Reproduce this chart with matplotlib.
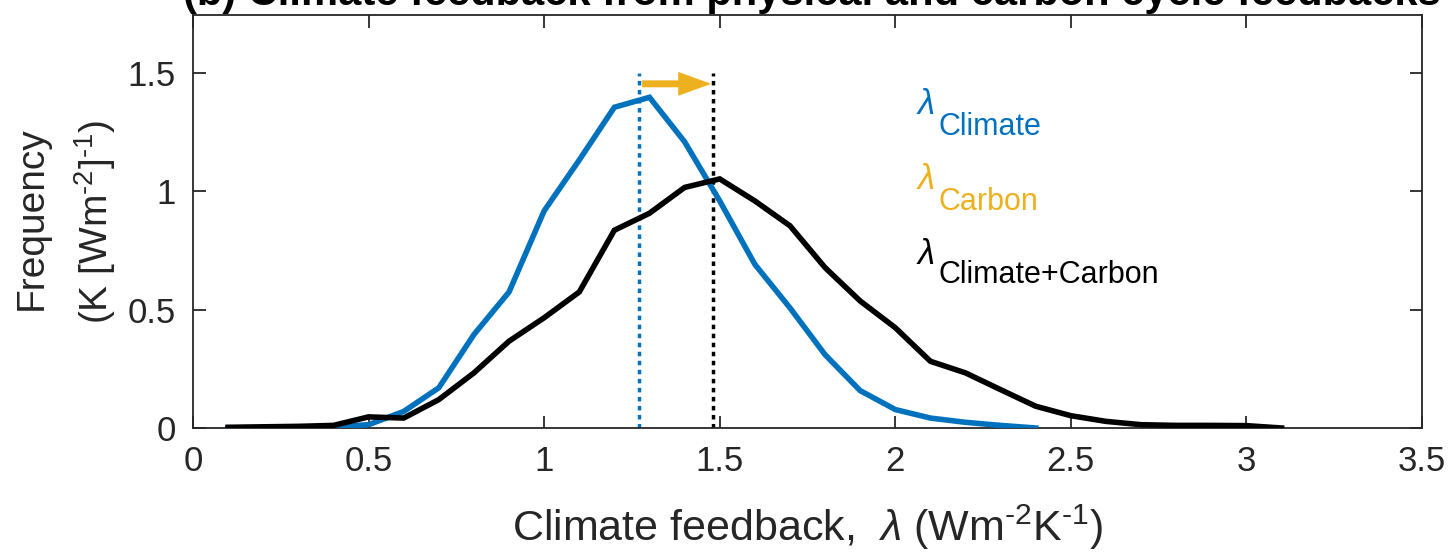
import matplotlib
matplotlib.use("Agg")
import matplotlib.pyplot as plt

FONT = "Liberation Sans"
plt.rcParams['font.family'] = [FONT, 'DejaVu Sans']
plt.rcParams['mathtext.fontset'] = 'custom'
plt.rcParams['mathtext.rm'] = FONT
plt.rcParams['mathtext.it'] = FONT + ':italic'
plt.rcParams['mathtext.bf'] = FONT + ':bold'

# ---- data ----
x_climate = [0.1, 0.2, 0.3, 0.4, 0.5, 0.6, 0.7, 0.8, 0.9, 1.0, 1.1, 1.2,
             1.3, 1.4, 1.5, 1.6, 1.7, 1.8, 1.9, 2.0, 2.1, 2.2, 2.3, 2.4]
y_climate = [0.0, 0.0, 0.0, 0.005, 0.014, 0.07, 0.17, 0.395, 0.575, 0.918, 1.133, 1.356,
             1.398, 1.21, 0.96, 0.692, 0.508, 0.31, 0.158, 0.078, 0.042, 0.024, 0.011, 0.0]
x_total = [0.1, 0.2, 0.3, 0.4, 0.5, 0.6, 0.7, 0.8, 0.9, 1.0, 1.1, 1.2, 1.3, 1.4, 1.5, 1.6,
           1.7, 1.8, 1.9, 2.0, 2.1, 2.2, 2.3, 2.4, 2.5, 2.6, 2.7, 2.8, 2.9, 3.0, 3.1]
y_total = [0.003, 0.005, 0.007, 0.011, 0.047, 0.042, 0.12, 0.233, 0.367, 0.466, 0.575, 0.836,
           0.908, 1.017, 1.053, 0.96, 0.855, 0.678, 0.537, 0.424, 0.282, 0.233, 0.162, 0.092,
           0.052, 0.028, 0.014, 0.011, 0.011, 0.01, 0.0]
mean_climate = 1.27
mean_total = 1.48
arrow_y = 1.455
vline_top = 1.5

xticks = [0, 0.5, 1, 1.5, 2, 2.5, 3, 3.5]
xticklabels = ['0', '0.5', '1', '1.5', '2', '2.5', '3', '3.5']
yticks = [0, 0.5, 1, 1.5]
yticklabels = ['0', '0.5', '1', '1.5']
labels = ['Climate', 'Carbon', 'Climate+Carbon']

BLUE = '#0072BD'
ORANGE = '#EDB120'
AX = '#262626'
W, H = 1452, 552

fig = plt.figure(figsize=(W/100, H/100), dpi=100)
L, R, T, B = 193, 1422, 15, 428
ax = fig.add_axes([L/W, 1-B/H, (R-L)/W, (B-T)/H])

ax.plot(x_climate, y_climate, color=BLUE, lw=4.0, solid_joinstyle='miter', zorder=3)
ax.plot(x_total, y_total, color='black', lw=4.0, solid_joinstyle='miter', zorder=3)
ax.plot([mean_climate, mean_climate], [0, vline_top], color=BLUE, lw=2.5, ls=(0, (1.3, 1.3)), zorder=2)
ax.plot([mean_total, mean_total], [0, vline_top], color='black', lw=2.5, ls=(0, (1.3, 1.3)), zorder=2)
ax.annotate('', xy=(mean_total - 0.004, arrow_y), xytext=(mean_climate + 0.009, arrow_y),
            arrowprops=dict(arrowstyle='simple,head_length=1.19,head_width=0.86,tail_width=0.25',
                            color=ORANGE, lw=0, shrinkA=0, shrinkB=0, mutation_scale=20))

ax.set_xlim(0, 3.5)
ax.set_ylim(0, 1.746)
ax.set_xticks(xticks)
ax.set_xticklabels(xticklabels)
ax.set_yticks(yticks)
ax.set_yticklabels(yticklabels)
ax.tick_params(direction='in', length=9, width=1.3, colors=AX, labelsize=25,
               top=True, right=True)
ax.tick_params(axis='x', pad=12)
ax.tick_params(axis='y', pad=12.5)
for s in ax.spines.values():
    s.set_color(AX)
    s.set_linewidth(1.3)

hy = r'\text{-}'
fig.text(807/W, 1 - 541/H, r'Climate feedback,  $\lambda$ (Wm$^{' + hy + r'2}$K$^{' + hy + r'1}$)',
         fontsize=31, color=AX, ha='center', va='baseline')
fig.text(32/W, 1 - 218/H, 'Frequency', fontsize=28, color=AX, rotation=90,
         ha='center', va='center')
fig.text(95/W, 1 - 222/H, r'(K [Wm$^{' + hy + r'2}$]$^{' + hy + r'1}$)', fontsize=28, color=AX,
         rotation=90, ha='center', va='center')

lam_y = [1.328, 1.011, 0.693]
sub_y = [1.239, 0.922, 0.613]
colors = [BLUE, ORANGE, 'black']
for lab, ly, sy, c in zip(labels, lam_y, sub_y, colors):
    ax.text(2.058, ly, r'$\lambda$', fontsize=25, color=c, va='baseline', ha='left')
    ax.text(2.122, sy, lab, fontsize=22, color=c, va='baseline', ha='left')

fig.text(812/W, 1 - 5/H, '(b) Climate feedback from physical and carbon cycle feedbacks',
         ha='center', va='baseline', fontsize=30, fontweight='bold', color='black')

fig.savefig('out.png', dpi=100)
